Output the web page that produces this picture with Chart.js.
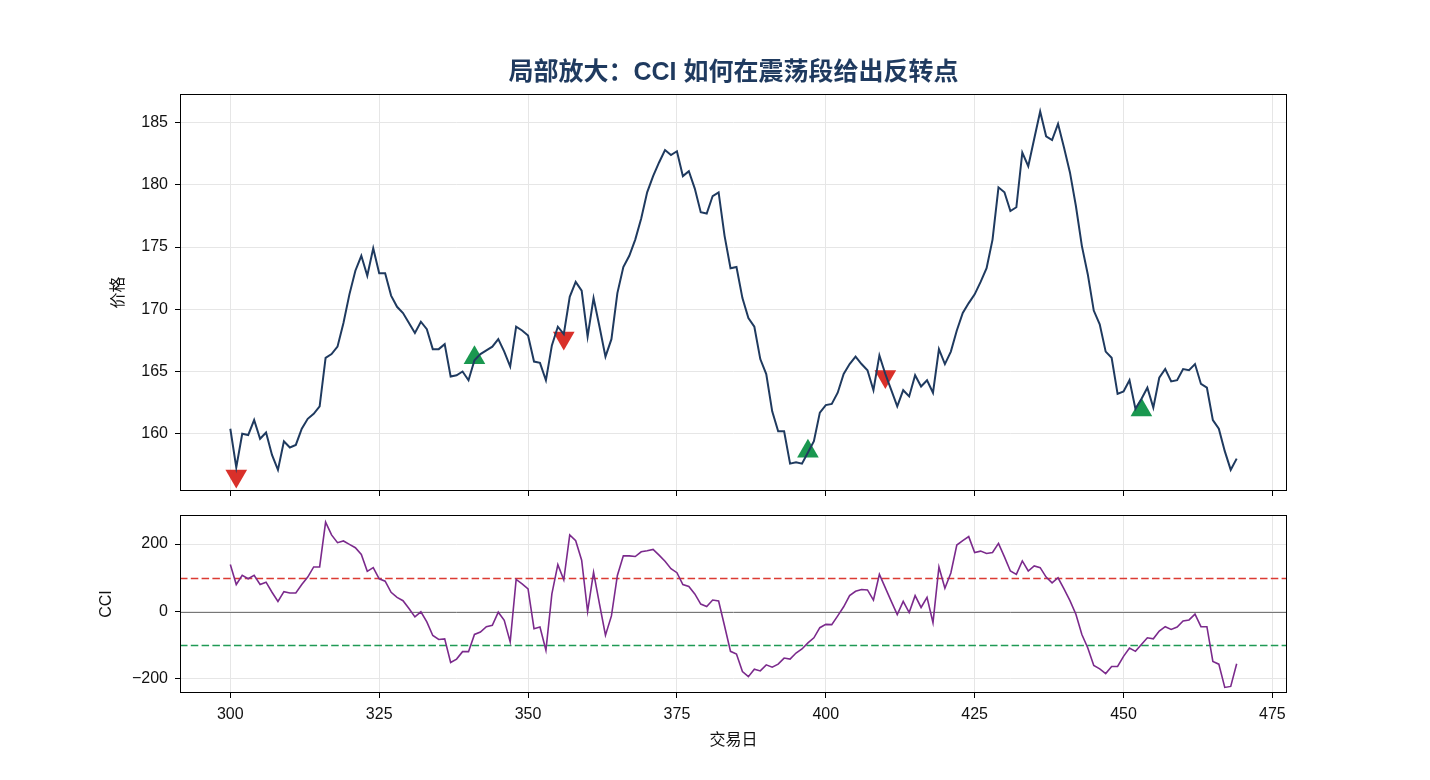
<!DOCTYPE html>
<html>
<head>
<meta charset="utf-8">
<script src="https://cdn.jsdelivr.net/npm/chart.js@4.4.1/dist/chart.umd.min.js"></script>
<style>
    body { margin: 0; background: #fff; }
    #wrap { position: relative; width: 1430px; height: 780px; }
    #price { position: absolute; left: 0; top: 0; }
    #cci { position: absolute; left: 0; top: 500px; }
</style>
</head>
<body>
<div id="wrap">
    <canvas id="price" width="1430" height="500"></canvas>
    <canvas id="cci" width="1430" height="280"></canvas>
</div>
<script>
// giorno di partenza della finestra (un valore al giorno)
var firstDay = 300;

var prices = [
    160.4, 157.3, 160.0, 159.9, 161.1, 159.6, 160.1, 158.3, 157.1, 159.4,
    158.9, 159.1, 160.4, 161.2, 161.6, 162.2, 166.1, 166.4, 167.0, 168.9,
    171.2, 173.1, 174.3, 172.7, 174.9, 172.9, 172.9, 171.1, 170.2, 169.7,
    168.9, 168.1, 169.0, 168.4, 166.8, 166.8, 167.2, 164.6, 164.7, 165.0,
    164.3, 165.9, 166.4, 166.7, 167.0, 167.6, 166.6, 165.4, 168.6, 168.3,
    167.9, 165.8, 165.7, 164.3, 167.1, 168.6, 168.0, 171.0, 172.2, 171.5,
    167.8, 170.9, 168.6, 166.2, 167.6, 171.3, 173.4, 174.3, 175.6, 177.3,
    179.4, 180.7, 181.8, 182.8, 182.4, 182.7, 180.7, 181.1, 179.7, 177.8,
    177.7, 179.1, 179.4, 175.9, 173.3, 173.4, 170.9, 169.3, 168.6, 166.0,
    164.8, 161.8, 160.2, 160.2, 157.6, 157.7, 157.6, 158.5, 159.4, 161.7,
    162.3, 162.4, 163.3, 164.8, 165.6, 166.2, 165.6, 165.1, 163.5, 166.3,
    164.8, 163.5, 162.2, 163.5, 163.0, 164.7, 163.8, 164.3, 163.3, 166.8,
    165.6, 166.6, 168.3, 169.7, 170.5, 171.2, 172.2, 173.3, 175.6, 179.8,
    179.4, 177.9, 178.2, 182.6, 181.5, 183.7, 185.9, 183.9, 183.6, 184.9,
    183.0, 181.0, 178.3, 175.1, 172.8, 169.9, 168.8, 166.6, 166.1, 163.2,
    163.4, 164.3, 162.0, 162.8, 163.7, 162.1, 164.5, 165.2, 164.2, 164.3,
    165.2, 165.1, 165.6, 164.0, 163.7, 161.1, 160.4, 158.6, 157.1, 158.0
];

var cciValues = [
    139, 80, 107, 97, 107, 80, 87, 57, 30, 59,
    55, 55, 80, 102, 132, 132, 265, 227, 204, 209,
    199, 189, 169, 119, 130, 97, 90, 57, 42, 32,
    9, -16, -1, -31, -71, -83, -81, -151, -141, -119,
    -119, -68, -61, -45, -41, -2, -26, -90, 95, 82,
    67, -51, -46, -115, 52, 139, 94, 227, 210, 152,
    0, 116, 22, -70, -13, 107, 165, 165, 163, 177,
    180, 184, 167, 149, 127, 115, 80, 74, 52, 22,
    15, 34, 31, -43, -118, -126, -178, -193, -171, -176,
    -158, -165, -156, -138, -141, -123, -111, -93, -78, -48,
    -38, -39, -13, 14, 47, 60, 65, 64, 34, 110,
    70, 30, -9, 30, -3, 47, 12, 42, -33, 132,
    69, 114, 197, 210, 222, 175, 179, 172, 175, 202,
    162, 120, 110, 150, 120, 135, 130, 102, 85, 100,
    67, 32, -8, -68, -108, -160, -170, -184, -163, -163,
    -133, -108, -118, -98, -78, -81, -58, -45, -53, -46,
    -28, -25, -8, -45, -45, -148, -156, -225, -222, -155
];

// segnali
var buyDays = [341, 397, 453];
var buyPrices = [166.1, 158.6, 161.9];
var sellDays = [301, 356, 410];
var sellPrices = [156.6, 167.7, 164.6];

var xTicks = [300, 325, 350, 375, 400, 425, 450, 475];
var priceTicks = [160, 165, 170, 175, 180, 185];
var cciTicks = [-200, 0, 200];
var cciLevels = [100, -100, 0];

var titleText = '局部放大：CCI 如何在震荡段给出反转点';

Chart.defaults.font.family = '"Liberation Sans", "Noto Sans CJK SC", sans-serif';
Chart.defaults.font.size = 16;
Chart.defaults.color = '#111';

var gridColor = '#e6e6e6';
var levelStyles = [
    { color: '#dc3b33', dash: [7.5, 3.3], width: 1.5 },
    { color: '#1f9a55', dash: [7.5, 3.3], width: 1.5 },
    { color: '#777777', dash: [], width: 1 }
];

function getDays()
{
    var days = [];
    for (var i = 0; i < prices.length; i++) {
        days.push(firstDay + i);
    }
    return days;
}

function toPoints(xs, ys)
{
    var points = [];
    for (var i = 0; i < xs.length; i++) {
        points.push({ x: xs[i], y: ys[i] });
    }
    return points;
}

function fixedTicks(list)
{
    return function(scale) {
        scale.ticks = list.map(function(v) { return { value: v }; });
    };
}

function fixedWidth(w)
{
    return function(scale) {
        scale.width = w;
        scale.paddingTop = 0;
        scale.paddingBottom = 0;
    };
}

function fixedHeight(h)
{
    return function(scale) {
        scale.height = h;
        scale.paddingLeft = 0;
        scale.paddingRight = 0;
    };
}

function minusSign(value)
{
    return String(value).replace('-', '\u2212');
}

var framePlugin = {
    id: 'frame',
    afterDraw: function(chart) {
        var a = chart.chartArea;
        var ctx = chart.ctx;
        ctx.save();
        ctx.strokeStyle = '#000';
        ctx.lineWidth = 1;
        ctx.strokeRect(Math.round(a.left) + 0.5, Math.round(a.top) + 0.5,
            Math.round(a.right - a.left) - 1, Math.round(a.bottom - a.top) - 1);
        ctx.restore();
    }
};

var levelsPlugin = {
    id: 'levels',
    beforeDatasetsDraw: function(chart) {
        var a = chart.chartArea;
        var ctx = chart.ctx;
        var y = chart.scales.y;
        for (var i = 0; i < cciLevels.length; i++) {
            var st = levelStyles[i];
            var py = Math.round(y.getPixelForValue(cciLevels[i])) + 0.5;
            ctx.save();
            ctx.strokeStyle = st.color;
            ctx.lineWidth = st.width;
            ctx.setLineDash(st.dash);
            ctx.beginPath();
            ctx.moveTo(a.left, py);
            ctx.lineTo(a.right, py);
            ctx.stroke();
            ctx.restore();
        }
    }
};

function xScale(showLabels)
{
    return {
        type: 'linear',
        bounds: 'data',
        min: 291.55,
        max: 477.45,
        afterBuildTicks: fixedTicks(xTicks),
        ticks: { display: showLabels, padding: 7, color: '#111', maxRotation: 0 },
        grid: { color: gridColor, tickColor: '#000', tickLength: 5 },
        border: { display: false }
    };
}

function printPriceChart(days)
{
    var x = xScale(false);
    x.afterFit = fixedHeight(9);

    new Chart(document.getElementById('price'), {
        type: 'line',
        data: {
            datasets: [{
                data: toPoints(days, prices),
                borderColor: '#1f3a5f',
                borderWidth: 2,
                pointRadius: 0,
                tension: 0
            }, {
                data: toPoints(buyDays, buyPrices),
                showLine: false,
                pointStyle: 'triangle',
                pointRadius: 12.5,
                pointBackgroundColor: '#1a9850',
                pointBorderWidth: 0
            }, {
                data: toPoints(sellDays, sellPrices),
                showLine: false,
                pointStyle: 'triangle',
                rotation: 180,
                pointRadius: 12.5,
                pointBackgroundColor: '#d9302a',
                pointBorderWidth: 0
            }]
        },
        options: {
            responsive: false,
            animation: false,
            devicePixelRatio: 1,
            events: [],
            layout: { autoPadding: false, padding: { left: 0, right: 143, top: 10, bottom: 0 } },
            plugins: {
                legend: { display: false },
                tooltip: { enabled: false },
                title: {
                    display: true,
                    text: titleText,
                    fullSize: false,
                    color: '#1f3a5f',
                    font: { size: 25, weight: 'bold' },
                    padding: { top: 48.5, bottom: 5.5 }
                }
            },
            scales: {
                x: x,
                y: {
                    type: 'linear',
                    bounds: 'data',
                    min: 155.4,
                    max: 187.3,
                    afterBuildTicks: fixedTicks(priceTicks),
                    afterFit: fixedWidth(180),
                    ticks: { padding: 7, color: '#111' },
                    grid: { color: gridColor, tickColor: '#000', tickLength: 5 },
                    border: { display: false },
                    title: { display: true, text: '价格', color: '#111', padding: { top: 109.4, bottom: 0 } }
                }
            }
        },
        plugins: [framePlugin]
    });
}

function printCciChart(days)
{
    var x = xScale(true);
    x.afterFit = fixedHeight(87);
    x.title = { display: true, text: '交易日', color: '#111', padding: { top: 0, bottom: 29.4 } };

    new Chart(document.getElementById('cci'), {
        type: 'line',
        data: {
            datasets: [{
                data: toPoints(days, cciValues),
                borderColor: '#7b2a8c',
                borderWidth: 1.6,
                pointRadius: 0,
                tension: 0
            }]
        },
        options: {
            responsive: false,
            animation: false,
            devicePixelRatio: 1,
            events: [],
            layout: { autoPadding: false, padding: { left: 0, right: 143, top: 15, bottom: 0 } },
            plugins: {
                legend: { display: false },
                tooltip: { enabled: false }
            },
            scales: {
                x: x,
                y: {
                    type: 'linear',
                    bounds: 'data',
                    min: -241.5,
                    max: 286,
                    afterBuildTicks: fixedTicks(cciTicks),
                    afterFit: fixedWidth(180),
                    ticks: { padding: 7, color: '#111', callback: minusSign },
                    grid: { color: gridColor, tickColor: '#000', tickLength: 5 },
                    border: { display: false },
                    title: { display: true, text: 'CCI', color: '#111', padding: { top: 97.4, bottom: 0 } }
                }
            }
        },
        plugins: [framePlugin, levelsPlugin]
    });
}

var days = getDays();
printPriceChart(days);
printCciChart(days);
</script>
</body>
</html>
